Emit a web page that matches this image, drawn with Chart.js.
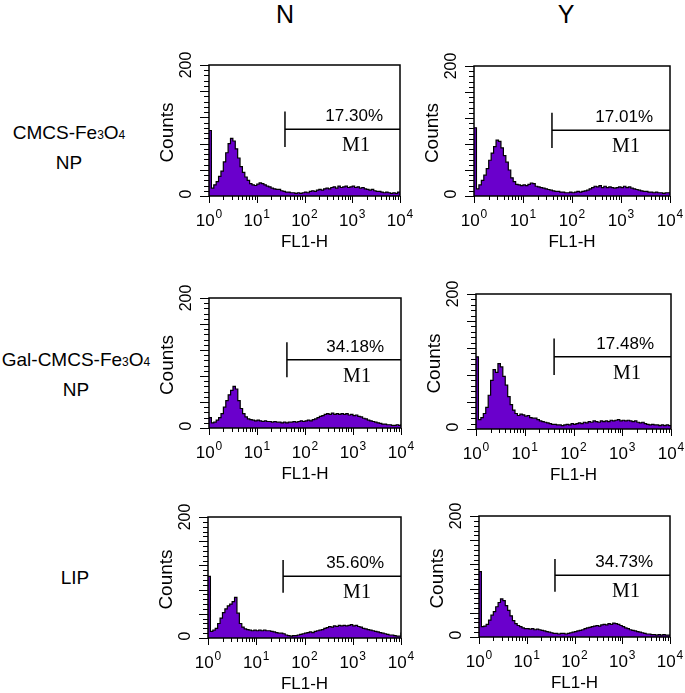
<!DOCTYPE html>
<html>
<head>
<meta charset="utf-8">
<script src="https://cdn.jsdelivr.net/npm/chart.js@4.4.1/dist/chart.umd.min.js"></script>
<style>
  body { margin: 0; background: #fff; }
  #page { position: relative; width: 685px; height: 693px; overflow: hidden; font-family: "Liberation Sans", Arial, sans-serif; color: #000; }
  .head { position: absolute; font-family: "Liberation Sans Narrow", "Liberation Sans", sans-serif; font-size: 25px; line-height: 25px; transform: translateX(-50%); }
  .row { position: absolute; font-size: 19px; line-height: 28px; text-align: center; white-space: nowrap; transform: translateX(-50%); }
  .row small { font-size: 12px; }
  canvas { position: absolute; }
</style>
</head>
<body>
<div id="page">
  <div class="head" style="left:285px; top:2px;">N</div>
  <div class="head" style="left:566px; top:2px;">Y</div>
  <div class="row" style="left:69px; top:119px;">CMCS-Fe<small>3</small>O<small>4</small><br>NP</div>
  <div class="row" style="left:76px; top:346px;">Gal-CMCS-Fe<small>3</small>O<small>4</small><br>NP</div>
  <div class="row" style="left:75px; top:564px;">LIP</div>
</div>
<script>
// counts per channel, channels spaced 0.05 decade apart from 10^0 to 10^4
const STEP = 0.05;
const cmcsN = [100, 12, 17, 22, 30, 38, 52, 66, 80, 88, 84, 72, 58, 45, 36, 29, 24, 19, 17, 16,
  18, 20, 19, 17, 15, 14, 12, 11, 10, 10, 8, 7, 6, 6, 5, 5, 4, 5, 4, 5,
  6, 5, 7, 8, 7, 9, 10, 9, 11, 12, 11, 13, 14, 12, 15, 13, 14, 15, 13, 14,
  15, 13, 14, 12, 13, 11, 10, 9, 10, 8, 7, 7, 6, 5, 6, 5, 4, 5, 4, 6, 5];
const cmcsY = [105, 11, 17, 24, 32, 42, 55, 66, 76, 86, 84, 74, 62, 52, 40, 28, 22, 18, 17, 16,
  17, 16, 18, 20, 19, 15, 14, 13, 12, 11, 10, 9, 8, 7, 7, 6, 6, 5, 5, 6,
  5, 6, 7, 6, 7, 8, 9, 11, 13, 15, 14, 16, 13, 15, 13, 14, 13, 12, 13, 14,
  13, 15, 13, 14, 12, 11, 10, 9, 8, 7, 7, 6, 6, 5, 6, 5, 5, 4, 5, 5, 6];
const galN = [16, 8, 9, 12, 16, 22, 32, 42, 51, 58, 64, 60, 42, 30, 22, 17, 14, 13, 12, 11,
  12, 11, 10, 11, 10, 10, 9, 10, 9, 9, 8, 9, 8, 9, 9, 10, 9, 10, 11, 10,
  11, 12, 11, 13, 14, 16, 18, 19, 21, 22, 21, 23, 21, 22, 21, 22, 21, 22, 20, 21,
  19, 20, 18, 17, 15, 14, 12, 11, 10, 9, 8, 7, 6, 6, 5, 5, 4, 4, 5, 4, 6];
const galY = [107, 14, 17, 23, 32, 50, 72, 88, 84, 97, 92, 78, 65, 48, 36, 28, 23, 20, 22, 21,
  19, 20, 17, 16, 16, 14, 12, 11, 10, 9, 8, 7, 7, 6, 6, 5, 6, 7, 6, 8,
  7, 8, 9, 8, 10, 9, 11, 10, 12, 11, 10, 12, 11, 12, 11, 13, 12, 13, 14, 12,
  13, 12, 13, 12, 11, 12, 10, 9, 10, 8, 7, 6, 7, 6, 6, 5, 6, 5, 6, 5, 6];
const lipN = [102, 11, 13, 16, 24, 33, 42, 48, 53, 56, 60, 67, 41, 24, 18, 15, 14, 13, 12, 13,
  12, 13, 12, 13, 12, 12, 11, 10, 9, 8, 8, 7, 5, 4, 3, 4, 4, 5, 6, 7,
  8, 9, 10, 9, 11, 12, 13, 14, 16, 17, 19, 18, 20, 19, 21, 20, 21, 20, 21, 22,
  20, 21, 19, 18, 16, 15, 14, 13, 12, 11, 10, 9, 8, 7, 6, 5, 5, 4, 3, 3, 9];
const lipY = [108, 17, 18, 21, 28, 36, 42, 50, 57, 63, 60, 52, 44, 35, 27, 22, 19, 17, 15, 14,
  14, 13, 14, 12, 13, 12, 11, 10, 9, 8, 7, 6, 6, 5, 6, 6, 5, 6, 7, 8,
  9, 10, 11, 12, 14, 15, 16, 17, 18, 19, 18, 20, 21, 20, 22, 21, 23, 22, 21, 19,
  17, 15, 14, 12, 11, 10, 9, 8, 7, 6, 5, 5, 4, 4, 3, 4, 3, 4, 3, 3, 4];

const panelCounts = [cmcsN, cmcsY, galN, galY, lipN, lipY];
const gatePercent = ['17.30%', '17.01%', '34.18%', '17.48%', '35.60%', '34.73%'];
const gateStart = [39, 39, 42, 40, 36, 39];
const gateLevel = [102, 101, 105, 107, 102, 102];
const gateName = 'M1';
const xDecades = [1, 10, 100, 1000, 10000];
const xTitle = 'FL1-H';
const yTitle = 'Counts';
const yLabels = [0, 200];

// plot boxes in page pixels: left, top, width, height
const boxes = [
  [209, 65, 191, 131], [474, 66, 196, 130],
  [209, 298, 192, 130], [476, 294, 195, 135],
  [208, 517, 193, 121], [479, 516, 191, 121]
];
const PAD_L = 60, PAD_T = 24, PAD_R = 20, PAD_B = 62;
const PURPLE = '#6a00cc';

const xMinor = [];
xDecades.forEach((d, i) => {
  if (i === xDecades.length - 1) { xMinor.push(d); return; }
  for (let m = 1; m < 10; m++) xMinor.push(m * d);
});

const cytoAxes = {
  id: 'cytoAxes',
  afterDraw(chart) {
    const ctx = chart.ctx, a = chart.chartArea;
    const xs = chart.scales.x, ys = chart.scales.y;
    const p = chart.options.plugins.cytoAxes;
    ctx.save();
    ctx.strokeStyle = '#000';
    ctx.fillStyle = '#000';
    ctx.lineWidth = 1.5;
    ctx.strokeRect(a.left, a.top, a.right - a.left, a.bottom - a.top);

    ctx.lineWidth = 1;
    ys.ticks.forEach(t => {
      const y = Math.round(ys.getPixelForValue(t.value)) + 0.5;
      const len = t.value % 40 === 0 ? 9 : 5;
      ctx.beginPath(); ctx.moveTo(a.left - len, y); ctx.lineTo(a.left, y); ctx.stroke();
    });
    xs.ticks.forEach(t => {
      const x = Math.round(xs.getPixelForValue(t.value)) + 0.5;
      const len = xDecades.includes(t.value) ? 7 : 4;
      ctx.beginPath(); ctx.moveTo(x, a.bottom); ctx.lineTo(x, a.bottom + len); ctx.stroke();
    });

    // decade labels 10^n
    xDecades.forEach((d, n) => {
      const x = xs.getPixelForValue(d);
      ctx.font = '17px "Liberation Sans", Arial, sans-serif';
      const w1 = ctx.measureText('10').width;
      ctx.font = '12px "Liberation Sans", Arial, sans-serif';
      const w2 = ctx.measureText(String(n)).width;
      const x0 = x - (w1 + w2 + 1) / 2;
      ctx.textAlign = 'left';
      ctx.textBaseline = 'alphabetic';
      ctx.font = '17px "Liberation Sans", Arial, sans-serif';
      ctx.fillText('10', x0, a.bottom + 30);
      ctx.font = '12px "Liberation Sans", Arial, sans-serif';
      ctx.fillText(String(n), x0 + w1 + 1, a.bottom + 22);
    });
    ctx.font = '17px "Liberation Sans", Arial, sans-serif';
    ctx.textAlign = 'center';
    ctx.fillText(xTitle, (a.left + a.right) / 2, a.bottom + 51);

    // rotated y labels
    yLabels.forEach(v => {
      ctx.save();
      ctx.translate(a.left - 22, ys.getPixelForValue(v) - (v === 0 ? 2 : 0));
      ctx.rotate(-Math.PI / 2);
      ctx.font = '16px "Liberation Sans", Arial, sans-serif';
      ctx.textAlign = 'center';
      ctx.textBaseline = 'middle';
      ctx.fillText(String(v), 0, 0);
      ctx.restore();
    });
    ctx.save();
    ctx.translate(a.left - 41, (a.top + a.bottom) / 2 + 2);
    ctx.rotate(-Math.PI / 2);
    ctx.font = '19px "Liberation Sans", Arial, sans-serif';
    ctx.textAlign = 'center';
    ctx.textBaseline = 'middle';
    ctx.fillText(yTitle, 0, 0);
    ctx.restore();

    // gate text
    const gy = ys.getPixelForValue(p.level);
    ctx.font = '17px "Liberation Sans", Arial, sans-serif';
    ctx.textAlign = 'right';
    ctx.textBaseline = 'alphabetic';
    ctx.fillText(p.percent, a.right - 17, gy - 8);
    ctx.font = '20px "Liberation Serif", "Times New Roman", serif';
    ctx.textAlign = 'center';
    ctx.fillText(gateName, a.right - 44, gy + 22);
    ctx.restore();
  }
};

const page = document.getElementById('page');
panelCounts.forEach((counts, k) => {
  const [bx, by, bw, bh] = boxes[k];
  const canvas = document.createElement('canvas');
  canvas.width = bw + PAD_L + PAD_R;
  canvas.height = bh + PAD_T + PAD_B;
  canvas.style.left = (bx - PAD_L) + 'px';
  canvas.style.top = (by - PAD_T) + 'px';
  page.appendChild(canvas);

  const hist = counts.map((c, i) => ({ x: Math.pow(10, i * STEP), y: c }));
  const g = gateStart[k], lvl = gateLevel[k];

  new Chart(canvas.getContext('2d'), {
    type: 'line',
    data: {
      datasets: [
        { data: hist, stepped: true, fill: 'origin', backgroundColor: PURPLE,
          borderColor: '#000', borderWidth: 1.2, pointRadius: 0 },
        { data: [{ x: g, y: lvl - 27 }, { x: g, y: lvl + 27 }], borderColor: '#000',
          borderWidth: 1.5, pointRadius: 0, fill: false },
        { data: [{ x: g, y: lvl }, { x: 10000, y: lvl }], borderColor: '#000',
          borderWidth: 1.5, pointRadius: 0, fill: false }
      ]
    },
    options: {
      responsive: false,
      animation: false,
      events: [],
      layout: { padding: { left: 0, top: PAD_T, right: PAD_R, bottom: 0 } },
      plugins: {
        legend: { display: false },
        tooltip: { enabled: false },
        cytoAxes: { percent: gatePercent[k], level: lvl }
      },
      scales: {
        x: {
          type: 'logarithmic', min: 1, max: 10000,
          grid: { display: false }, border: { display: false },
          ticks: { display: false },
          afterBuildTicks: s => { s.ticks = xMinor.map(v => ({ value: v })); },
          afterFit: s => { s.height = PAD_B; }
        },
        y: {
          type: 'linear', min: 0, max: 200,
          grid: { display: false }, border: { display: false },
          ticks: { display: false, stepSize: 8 },
          afterFit: s => { s.width = PAD_L; }
        }
      }
    },
    plugins: [cytoAxes]
  });
});
</script>
</body>
</html>
